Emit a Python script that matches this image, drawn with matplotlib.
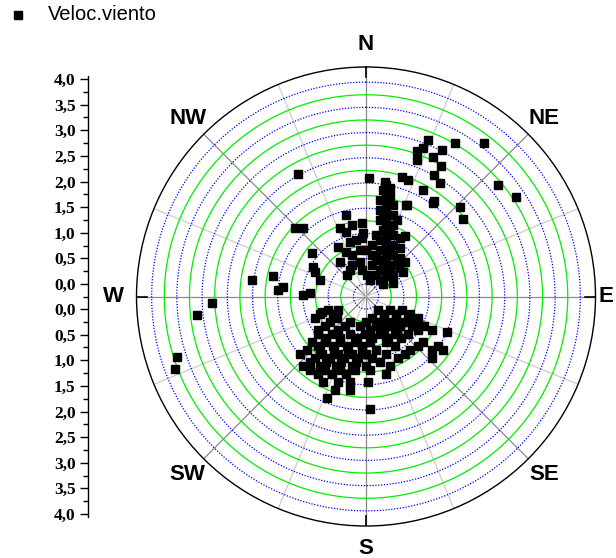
import numpy as np
import matplotlib.pyplot as plt
from matplotlib.lines import Line2D

# wind direction (deg, clockwise from N) and speed
ne_dir = [21.5, 30.2, 21.1, 19.5, 20.4, 27.6, 25.6, 30.1, 29.2, 33.0, 28.3, 35.7, 16.9,
          20.0, 24.0, 1.6, 9.4, 46.3, 33.1, 37.5, 49.8, 56.4, 51.4, 23.6, 35.6]
ne_spd = [3.09, 3.27, 2.90, 2.80, 2.64, 3.02, 2.81, 2.73, 2.51, 2.44, 2.15, 2.07, 2.23,
          2.21, 1.74, 2.11, 2.06, 2.33, 1.17, 3.59, 3.18, 3.32, 2.21, 1.73, 2.03]

w_dir = [331.1, 346.2, 339.2, 356.7, 314.0, 317.4, 278.2, 282.4, 276.5, 274.2, 271.4, 273.6,
         308.7, 299.1, 295.7, 289.7, 330.5, 343.6, 323.0, 357.3, 328.9, 318.5, 2.7, 13.6,
         267.6, 263.8, 252.2, 249.2]
w_spd = [2.53, 1.41, 1.20, 1.21, 1.71, 1.60, 2.04, 1.64, 1.41, 1.50, 1.00, 0.86,
         1.13, 0.95, 0.87, 0.72, 0.88, 0.88, 0.61, 1.01, 0.37, 0.32, 0.18, 0.09,
         2.81, 3.12, 3.69, 3.80]

n_dir = [10.2, 10.8, 11.6, 12.5, 13.5, 14.7, 16.1, 17.7, 19.8, 22.4, 25.7, 30.1, 36.0, 44.3,
         8.3, 9.2, 10.4, 13.9, 16.8, 21.0, 27.8, 40.3,
         16.4, 18.3, 20.7, 23.7, 27.7, 33.0, 40.6, 51.5, 63.4,
         30.2, 35.0, 41.4, 50.0, 6.6, 8.2, 10.8, 352.6, 350.1,
         48.5, 56.5, 350.0, 0.0,
         12.5, 13.4, 19.8, 27.3, 42.2, 9.1, 11.8, 14.3, 26.2, 53.7,
         22.1, 41.9, 9.2, 14.6, 24.9, 356.1, 351.4, 348.9, 341.4, 336.0, 342.8, 335.8]
n_spd = [2.00, 1.86, 1.72, 1.59, 1.45, 1.32, 1.18, 1.05, 0.92, 0.79, 0.66, 0.54, 0.42, 0.32,
         1.68, 1.49, 1.29, 0.90, 0.71, 0.53, 0.35, 0.18,
         1.64, 1.45, 1.27, 1.08, 0.90, 0.73, 0.57, 0.43, 0.35,
         1.09, 0.92, 0.77, 0.63, 0.78, 0.58, 0.39, 0.68, 0.44,
         0.78, 0.63, 0.89, 0.67,
         1.95, 1.80, 1.15, 0.79, 0.46, 1.89, 1.40, 1.11, 0.51, 0.17,
         1.39, 0.67, 0.99, 0.54, 0.22, 0.91, 0.28, 1.20, 0.62, 0.43, 1.09, 0.72]

s_dir = [250.4, 244.3, 138.4, 119.4, 110.6,
         247.1, 233.4, 164.4, 140.1, 125.6, 117.1, 112.5,
         234.3, 215.4, 191.5, 161.3, 143.3, 131.0, 122.7, 117.0,
         232.0, 222.2, 203.1, 181.5, 159.5, 142.3, 131.8,
         229.9, 221.3, 209.7, 193.6, 175.0, 156.3, 128.6,
         227.8, 220.7, 210.9, 198.6, 184.3, 169.4, 140.6, 129.0, 124.8,
         219.7, 210.3, 199.7, 187.4, 174.4, 152.5, 133.0,
         222.2, 213.5, 203.3, 191.4, 180.0, 161.0,
         211.8, 203.7, 194.5, 165.5,
         206.7, 198.1, 190.6, 178.7,
         198.3, 189.7, 113.7, 178.0, 201.0, 250.6,
         249.2, 242.1, 134.2, 120.3, 111.7,
         234.7, 212.1, 180.0, 151.2, 134.4, 123.9, 117.5,
         235.1, 219.9, 173.2, 151.7, 137.2, 122.8, 116.9,
         224.7, 212.1, 192.2, 171.8, 152.1, 139.9,
         224.1, 213.7, 201.0, 184.6, 149.6, 133.6, 124.5,
         228.9, 217.4, 206.0, 193.7, 180.0, 160.8, 145.9,
         220.5, 211.4, 200.9, 188.7, 167.9,
         217.3, 209.2, 199.5, 188.5, 176.9]
s_spd = [0.55, 0.37, 0.11, 0.30, 0.51,
         0.85, 0.47, 0.19, 0.31, 0.48, 0.69, 0.87,
         0.75, 0.47, 0.35, 0.37, 0.48, 0.64, 0.83, 1.04,
         0.96, 0.75, 0.56, 0.49, 0.54, 0.69, 0.87,
         1.15, 0.95, 0.79, 0.68, 0.66, 0.74, 1.20,
         1.33, 1.15, 0.99, 0.87, 0.81, 0.83, 1.12, 1.44, 1.62,
         1.34, 1.16, 1.05, 0.98, 0.98, 1.12, 1.54,
         1.61, 1.40, 1.25, 1.16, 1.13, 1.21,
         1.56, 1.43, 1.34, 1.34,
         1.65, 1.54, 1.48, 1.45,
         1.70, 1.63, 1.50, 1.98, 1.91, 0.67,
         0.73, 0.49, 0.25, 0.44, 0.69,
         0.63, 0.35, 0.26, 0.33, 0.47, 0.66, 0.85,
         0.91, 0.62, 0.42, 0.50, 0.65, 0.98, 1.22,
         0.91, 0.72, 0.59, 0.58, 0.68, 0.83,
         1.12, 0.93, 0.80, 0.74, 0.89, 1.17, 1.48,
         1.49, 1.19, 1.02, 0.92, 0.89, 0.96, 1.13,
         1.46, 1.27, 1.14, 1.07, 1.08,
         1.58, 1.42, 1.30, 1.22, 1.21]

compass = ['N', 'NE', 'E', 'SE', 'S', 'SW', 'W', 'NW']
compass_ang = [0, 45, 90, 135, 180, 225, 270, 315]
compass_r = [5.0, 5.0, 4.75, 5.0, 5.0, 5.0, 5.0, 5.0]

side_vals = [0.0, 0.5, 1.0, 1.5, 2.0, 2.5, 3.0, 3.5, 4.0]
side_labels = ['0,0', '0,5', '1,0', '1,5', '2,0', '2,5', '3,0', '3,5', '4,0']

W, H = 616, 558
fig = plt.figure(figsize=(W / 100, H / 100), dpi=100)

cx, cy, R = 366, 296.5, 229.5   # centre and outer radius (px)
hole = 0.25
rmax = 4.55

ax = fig.add_axes([(cx - R) / W, (H - cy - R) / H, 2 * R / W, 2 * R / H], projection='polar')
ax.set_theta_zero_location('N')
ax.set_theta_direction(-1)
ax.set_ylim(0, rmax)
ax.grid(False)
ax.set_xticks([])
ax.set_yticks([])
ax.spines['polar'].set_linewidth(1.0)

# spokes
for a in np.arange(0, 360, 22.5):
    col = '#8a8a8a' if a % 45 == 0 else '#cccccc'
    ax.plot([np.deg2rad(a)] * 2, [0, rmax], color=col, lw=0.9, zorder=1)
for a in [0, 90, 180, 270]:
    ax.plot([np.deg2rad(a)] * 2, [rmax - 0.2, rmax], color='k', lw=1.2, zorder=2)

# rings
t = np.linspace(0, 2 * np.pi, 500)
for k, rr in enumerate(np.arange(0, 4.01, 0.25)):
    if k % 2 == 0:
        ax.plot(t, np.full_like(t, rr + hole), color='blue', ls=(0, (1, 1.3)), lw=0.9, zorder=2)
    else:
        ax.plot(t, np.full_like(t, rr + hole), color='#00ee00', lw=0.9, zorder=2)

dirs = np.array(ne_dir + w_dir + n_dir + s_dir)
spds = np.array(ne_spd + w_spd + n_spd + s_spd)
ax.plot(np.deg2rad(dirs), spds + hole, 's', color='k', ms=6, zorder=5, clip_on=False)

for name, a, rl in zip(compass, compass_ang, compass_r):
    ax.text(np.deg2rad(a), rl, name, ha='center', va='center', fontsize=16,
            fontweight='bold', family='Liberation Sans')

# side scale
sc = 51.25
hole_px = 12.5
top = 220.5
lax = fig.add_axes([88 / W, (H - cy - top) / H, 0.0005, 2 * top / H])
lax.set_ylim(-top / sc, top / sc)
lax.patch.set_visible(False)
for s in ['right', 'top', 'bottom']:
    lax.spines[s].set_visible(False)
lax.spines['left'].set_linewidth(1.0)
lax.set_xticks([])
h = hole_px / sc
ticks = [h + v for v in side_vals[::-1]] + [-(h + v) for v in side_vals]
labs = side_labels[::-1] + side_labels
lax.set_yticks(ticks)
lax.set_yticklabels(labs, fontsize=12.5, fontweight='bold', family='Liberation Serif')
minor = [0.0] + [h + v + 0.25 for v in side_vals[:-1]] + [-(h + v + 0.25) for v in side_vals[:-1]]
lax.set_yticks(minor, minor=True)
lax.tick_params(axis='y', which='major', direction='out', length=6, width=1, pad=3)
lax.tick_params(axis='y', which='minor', direction='out', length=3.5, width=1)

# legend
fig.add_artist(Line2D([18 / W], [1 - 15 / H], marker='s', color='k', ms=5.5,
                      transform=fig.transFigure))
fig.text(48 / W, 1 - 15 / H, 'Veloc.viento', ha='left', va='center', fontsize=14.5,
         family='Liberation Sans')

fig.savefig('out.png', dpi=100)
